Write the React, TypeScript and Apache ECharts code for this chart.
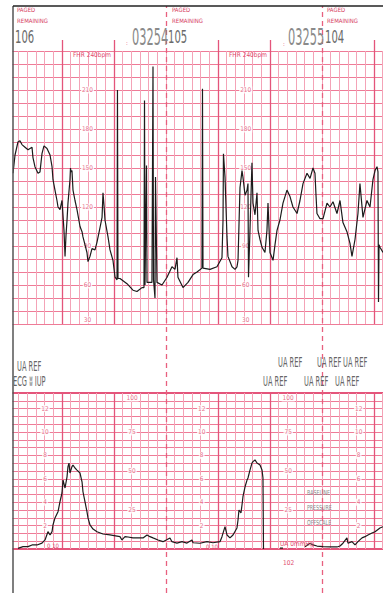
import React, { useEffect, useRef } from "react";
import * as echarts from "echarts";

// ---------- DATA (time in seconds from left edge of strip) ----------
const fhrTrace: [number, number][] = [
  [3.5, 146], [5.8, 160], [9.2, 170], [11.5, 171], [13.8, 168], [17.3, 166], [20.8, 164], [25.4, 166],
  [26.5, 158], [28.8, 151], [32.3, 146], [34.6, 147], [36.9, 161], [39.2, 167], [42.7, 165], [46.2, 160],
  [48.5, 151], [49.6, 141], [51.9, 133], [54.2, 125], [55.4, 120], [57.7, 118], [60, 125], [62.3, 102],
  [63.5, 82], [64.6, 98], [65.8, 110], [66.9, 123], [69.2, 141], [69.8, 150], [70.4, 147], [71.5, 148],
  [72.7, 133], [75, 125], [77.3, 118], [80.8, 105], [83.1, 101], [84.2, 97], [86.5, 91], [88.8, 85],
  [90, 78], [92.3, 82], [94.6, 88], [98.1, 87], [100.4, 93], [103.8, 104], [106.2, 112], [107.3, 131],
  [108.5, 121], [109.6, 110], [113.1, 97], [115.4, 87], [118.8, 79], [121.2, 66], [123.5, 64], [124, 210],
  [124.6, 65], [126.9, 65], [135, 61], [141.9, 56], [146.5, 55], [152.3, 58], [154.6, 58], [155.2, 202],
  [155.8, 60], [157.5, 152], [158.1, 62], [163.8, 62], [165, 228], [165.6, 64], [167.3, 50], [167.9, 143],
  [169.6, 62], [175.4, 60], [181.2, 66], [186.9, 74], [190.4, 72], [192.7, 81], [193.8, 66], [199.6, 58],
  [205.4, 62], [211.2, 68], [215.8, 70], [221.5, 73], [222.1, 211], [222.7, 73], [230.8, 72], [238.8, 74],
  [244.6, 81], [245.8, 110], [246.3, 161], [248.1, 143], [250.4, 97], [251.5, 82], [256.2, 74], [259.6, 72],
  [261.9, 74], [263.1, 79], [265.4, 135], [267.7, 148], [268.8, 143], [271.2, 129], [273.5, 133], [274.6, 138],
  [275.2, 66], [276.9, 102], [279.2, 154], [280.4, 123], [282.7, 114], [285, 131], [286.2, 102], [288.5, 95],
  [290.8, 89], [294.2, 85], [296.5, 102], [297.7, 123], [300, 85], [303.5, 79], [305.8, 91], [308.1, 102],
  [311.5, 110], [315, 123], [319.6, 133], [323.1, 128], [326.5, 120], [331.2, 115], [334.6, 125], [338.1, 138],
  [342.7, 146], [346.2, 142], [349.6, 150], [351.9, 146], [353.1, 129], [354.2, 115], [357.7, 111], [361.2, 111],
  [365.8, 123], [369.2, 120], [372.7, 124], [377.3, 115], [380.8, 125], [384.2, 108], [388.8, 101], [392.3, 92],
  [394.6, 82], [398.1, 95], [401.5, 115], [403.8, 138], [407.3, 112], [411.9, 125], [415.4, 120], [418.8, 141],
  [421.2, 148], [423.5, 151], [424.6, 147], [425.2, 47], [425.8, 91], [426.9, 89], [430.4, 85],
];

const uaTrace: [number, number | null][] = [
  [9.2, 0.4], [15, 1.5], [20.8, 1.5], [25.4, 2.6], [31.2, 2.6], [36.9, 3.8], [40.4, 5.8], [43.8, 11.1],
  [46.2, 9], [48.5, 11.1], [49.6, 15.4], [51.9, 19.9], [55.4, 23.9], [57.7, 30.3], [60, 35.9], [61.2, 44.2],
  [63.5, 39.1], [65.8, 46.3], [66.9, 52.8], [68.1, 55.1], [69.2, 48.7], [71.5, 52.8], [72.7, 53.8], [75, 51.9],
  [77.3, 50.6], [80.8, 48.7], [83.1, 43.1], [84.2, 36.7], [86.5, 30.3], [88.8, 23.9], [90, 19.9], [92.3, 15.4],
  [95.8, 12.8], [100.4, 11.1], [107.3, 9.6], [115.4, 9], [123.5, 8.3], [126.9, 7.9], [129.2, 5.8], [132.7, 7.9],
  [136.2, 7.7], [141.9, 7.1], [147.7, 7.1], [153.5, 7.1], [158.1, 9], [161.5, 7.9], [165, 7.1], [170.8, 5.8],
  [176.5, 4.7], [184.6, 7.1], [186.9, 4.7], [192.7, 3.8], [198.5, 4.7], [204.2, 3.8], [210, 5.8], [211.2, 4],
  [219.2, 3.7], [227.3, 4.7], [234.2, 4], [242.3, 4.7], [244.6, 7.9], [248.1, 14.3], [250.4, 9], [253.8, 7.1],
  [257.3, 9], [261.9, 13.5], [263.1, 18.6], [264.2, 25], [266.5, 23.1], [267.7, 28.2], [268.8, 33.5], [271.2, 39.9],
  [273.5, 44.2], [274.6, 45.5], [276.9, 50.6], [279.2, 55.1], [280.4, 56], [282.7, 57.1], [285, 55.1], [288.5, 53.8],
  [290.8, 50.6], [291.9, 45.5], [292.5, 0], [292.6, null], [311.5, 0.6], [315, 0.6], [315.1, null],
  [340.4, 1.5], [346.2, 3.7], [349.6, 2.6], [354.2, 1.9], [361.2, 1.5], [369.2, 1.3], [377.3, 1.3], [380.8, 1.9],
  [384.2, 3.7], [388.8, 7.1], [390, 3.7], [394.6, 4.7], [398.1, 2.6], [401.5, 4.7], [406.2, 7.1], [409.6, 7.9],
  [413.1, 9], [417.7, 10.3], [421.2, 11.1], [426.9, 13.5], [430.4, 14.3],
];

const fhrScaleTicks = [210, 180, 150, 120, 90, 60, 30];
const fhrLabelColumns = [89.4, 272];
const kpaTicks = [12, 10, 8, 6, 4, 2];
const kpaColumns = [40.4, 221.2, 402.3];
const mmHgTicks = [100, 75, 50, 25];
const mmHgColumns = [140.8, 321];
const minuteMarks = [60, 120, 240, 300, 420];
const pageBreaks = [180, 360];
const MMHG_PER_KPA = 7.5;
const T_MAX = 430.4;

// ---------- STYLE ----------
const MINOR_V = "#f4a3b7";
const H_LINE = "#ee7b97";
const MAJOR_V = "#e4557b";
const DASH = "#e8607f";
const LABEL_PINK = "#e04a6e";
const RED_TXT = "#d6405f";
const NARROW = '"Liberation Sans Narrow", "DejaVu Sans Condensed", sans-serif';

function hiddenAxisParts() {
  return { axisLine: { show: false }, axisTick: { show: false }, axisLabel: { show: false } };
}

function xAxisFor(gridIndex: number, split: boolean) {
  return {
    type: "value", gridIndex, min: 0, max: T_MAX, interval: 10, ...hiddenAxisParts(),
    splitLine: { show: split, lineStyle: { color: MINOR_V, width: 1 } },
  };
}

function decor(xi: number, yi: number, yVal: number, marks: number[], lineStyle: any, z: number) {
  return {
    type: "line", xAxisIndex: xi, yAxisIndex: yi, data: [[0, yVal]], symbol: "none",
    lineStyle: { width: 0 }, silent: true, z,
    markLine: {
      silent: true, symbol: ["none", "none"], label: { show: false }, lineStyle,
      data: marks.map((m) => ({ xAxis: m })),
    },
  };
}

function txt(text: string, x: number, y: number, size: number, color: string, scaleX = 1, weight = "normal") {
  return {
    type: "text", x, y, scaleX, z: 70,
    style: { text, fill: color, font: `${weight} ${size}px ${NARROW}`, textVerticalAlign: "middle" },
  };
}

const labelStyle = {
  show: true, position: "inside", color: LABEL_PINK, fontSize: 6.5, fontFamily: NARROW,
  backgroundColor: "#fff", padding: [0, 1], formatter: "{b}",
};

const fhrLabelData = fhrLabelColumns.flatMap((s) =>
  fhrScaleTicks.map((v) => ({ value: [s, v], name: String(v), label: v === 30 ? { offset: [0, -4] } : undefined }))
);
const uaLabelData = [
  ...kpaColumns.flatMap((s) => kpaTicks.map((k) => ({ value: [s, k * MMHG_PER_KPA], name: String(k) }))),
  ...mmHgColumns.flatMap((s) =>
    mmHgTicks.map((v) => ({ value: [s, v], name: String(v), label: v === 100 ? { offset: [0, 5] } : undefined }))
  ),
];

const option: any = {
  animation: false,
  backgroundColor: "#fff",
  grid: [
    { left: 10, right: 0, top: 51, height: 273 },
    { left: 10, right: 0, top: 393, height: 156 },
    { left: 10, right: 0, top: 40, height: 11 },
    { left: 10, right: 0, top: 6, height: 587 },
  ],
  xAxis: [xAxisFor(0, true), xAxisFor(1, true), xAxisFor(2, false), xAxisFor(3, false)],
  yAxis: [
    { type: "value", gridIndex: 0, min: 30, max: 240, interval: 10, ...hiddenAxisParts(), splitLine: { show: true, lineStyle: { color: H_LINE, width: 1.2 } } },
    { type: "value", gridIndex: 1, min: 0, max: 100, interval: 5, ...hiddenAxisParts(), splitLine: { show: true, lineStyle: { color: H_LINE, width: 1.1 } } },
    { type: "value", gridIndex: 2, min: 0, max: 1, ...hiddenAxisParts(), splitLine: { show: false } },
    { type: "value", gridIndex: 3, min: 0, max: 1, ...hiddenAxisParts(), splitLine: { show: false } },
    { type: "value", gridIndex: 1, min: 0, max: 100, interval: 100, ...hiddenAxisParts(), splitLine: { show: true, lineStyle: { color: MAJOR_V, width: 1.8 } } },
  ],
  series: [
    decor(0, 0, 30, minuteMarks, { color: MAJOR_V, width: 1.3, type: "solid" }, 1),
    decor(1, 1, 0, minuteMarks, { color: MAJOR_V, width: 1.3, type: "solid" }, 1),
    decor(2, 2, 0, minuteMarks, { color: MAJOR_V, width: 1.3, type: "solid" }, 1),
    decor(3, 3, 0, pageBreaks, { color: DASH, width: 1.3, type: [5, 4] }, 3),
    {
      type: "scatter", xAxisIndex: 0, yAxisIndex: 0, data: fhrLabelData, symbolSize: 1,
      itemStyle: { color: "rgba(0,0,0,0)" }, label: labelStyle, silent: true, z: 3,
    },
    {
      type: "scatter", xAxisIndex: 1, yAxisIndex: 1, data: uaLabelData, symbolSize: 1,
      itemStyle: { color: "rgba(0,0,0,0)" }, label: labelStyle, silent: true, z: 3,
    },
    {
      type: "line", name: "FHR", xAxisIndex: 0, yAxisIndex: 0, data: fhrTrace, symbol: "none",
      lineStyle: { color: "#1c1c1c", width: 1.2 }, z: 5, silent: true,
    },
    {
      type: "line", name: "UA", xAxisIndex: 1, yAxisIndex: 1, data: uaTrace, symbol: "none",
      connectNulls: false, lineStyle: { color: "#1c1c1c", width: 1.2 }, z: 5, silent: true,
    },
  ],
  graphic: [
    { type: "rect", shape: { x: 0, y: 0, width: 12.5, height: 593 }, style: { fill: "#fff" }, z: 60 },
    { type: "line", shape: { x1: 13, y1: 6, x2: 13, y2: 593 }, style: { stroke: "#555", lineWidth: 1.5 }, z: 65 },
    { type: "line", shape: { x1: 13, y1: 6, x2: 383, y2: 6 }, style: { stroke: "#222", lineWidth: 1.5 }, z: 65 },
    txt("PAGED", 17, 9.5, 6, RED_TXT, 1),
    txt("REMAINING", 17, 20, 6, RED_TXT, 1),
    txt("PAGED", 172, 9.5, 6, RED_TXT, 1),
    txt("REMAINING", 172, 20, 6, RED_TXT, 1),
    txt("PAGED", 327, 9.5, 6, RED_TXT, 1),
    txt("REMAINING", 327, 20, 6, RED_TXT, 1),
    txt("106", 15, 37, 18, "#6a6a6a", 0.62),
    txt("03254", 132, 37, 23, "#8a8a8a", 0.55),
    txt("105", 168, 37, 18, "#6a6a6a", 0.62),
    txt("03255", 288, 37, 23, "#8a8a8a", 0.55),
    txt("104", 325, 37, 18, "#6a6a6a", 0.62),
    txt(":", 126, 42, 6, LABEL_PINK),
    txt(":", 283, 43, 6, LABEL_PINK),
    txt("FHR 240bpm", 73, 55, 6.5, LABEL_PINK),
    txt("FHR 240bpm", 229, 55, 6.5, LABEL_PINK),
    txt("UA REF", 17, 367, 13.5, "#666", 0.55),
    txt("ECG \u02ac IUP", 13, 382, 13.5, "#666", 0.55),
    txt("UA REF", 278, 363, 13.5, "#666", 0.55),
    txt("UA REF", 317, 363, 13.5, "#666", 0.55),
    txt("UA REF", 343, 363, 13.5, "#666", 0.55),
    txt("UA REF", 263, 382, 13.5, "#666", 0.55),
    txt("UA REF", 304, 382, 13.5, "#666", 0.55),
    txt("UA REF", 335, 382, 13.5, "#666", 0.55),
    txt("BASELINE", 307, 492, 7, "#8a8a8a", 0.75),
    txt("PRESSURE", 307, 507, 7, "#8a8a8a", 0.75),
    txt("OFFSCALE", 307, 522, 7, "#8a8a8a", 0.75),
    txt("0 10", 47, 545, 6, LABEL_PINK),
    txt("0 10", 206, 546, 6, LABEL_PINK),
    txt("UA 0mmHg", 280, 544, 6.5, LABEL_PINK),
    txt("102", 283, 563, 6.5, LABEL_PINK),
  ],
};

export default function App() {
  const ref = useRef<HTMLDivElement>(null);
  useEffect(() => {
    document.body.style.margin = "0";
    const chart = echarts.init(ref.current!, null, { renderer: "svg" });
    chart.setOption(option);
    return () => chart.dispose();
  }, []);
  return (
    <div
      ref={ref}
      style={{ position: "absolute", left: 0, top: 0, width: 383, height: 593, background: "#fff" }}
    />
  );
}
